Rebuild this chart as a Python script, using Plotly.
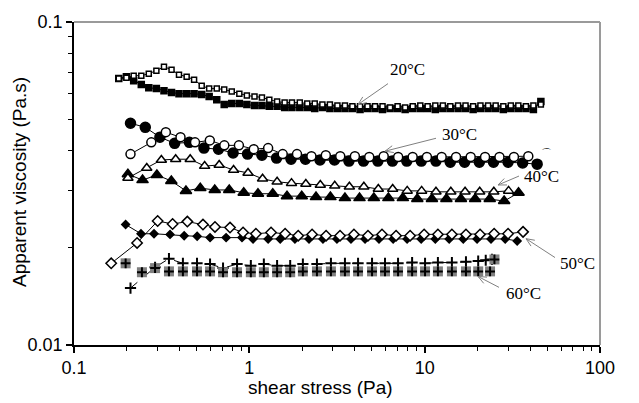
import math
import plotly.graph_objects as go

# ---------------- data (shear stress in Pa, apparent viscosity in Pa.s) ----------------
x20 = [0.180, 0.199, 0.219, 0.242, 0.267, 0.295, 0.326, 0.360, 0.397, 0.439,
       0.484, 0.535, 0.590, 0.652, 0.719, 0.794, 0.877, 0.968, 1.07, 1.18,
       1.30, 1.44, 1.59, 1.75, 1.94, 2.14, 2.36, 2.61, 2.88, 3.18,
       3.51, 3.87, 4.28, 4.72, 5.21, 5.75, 6.35, 7.01, 7.74, 8.55,
       9.44, 10.4, 11.5, 12.7, 14.0, 15.5, 17.1, 18.9, 20.8, 23.0,
       25.4, 28.1, 31.0, 34.2, 37.8, 41.7, 46.0]
y20_open = [0.0668, 0.0672, 0.0682, 0.0682, 0.0692, 0.0707, 0.0727, 0.0712, 0.0687, 0.0677,
            0.0663, 0.0635, 0.0622, 0.0622, 0.0618, 0.0609, 0.0600, 0.0592, 0.0588, 0.0584,
            0.0575, 0.0567, 0.0563, 0.0563, 0.0563, 0.0559, 0.0559, 0.0555, 0.0555, 0.0551,
            0.0551, 0.0548, 0.0548, 0.0548, 0.0548, 0.0548, 0.0544, 0.0548, 0.0544, 0.0548,
            0.0551, 0.0548, 0.0551, 0.0551, 0.0548, 0.0551, 0.0551, 0.0548, 0.0551, 0.0551,
            0.0551, 0.0548, 0.0551, 0.0551, 0.0548, 0.0551, 0.0555]
y20_fill = [0.0668, 0.0677, 0.0658, 0.0640, 0.0626, 0.0622, 0.0613, 0.0605, 0.0600, 0.0600,
            0.0600, 0.0596, 0.0588, 0.0575, 0.0555, 0.0559, 0.0559, 0.0555, 0.0551, 0.0551,
            0.0548, 0.0548, 0.0544, 0.0544, 0.0544, 0.0544, 0.0540, 0.0544, 0.0540, 0.0540,
            0.0540, 0.0540, 0.0536, 0.0540, 0.0540, 0.0536, 0.0540, 0.0540, 0.0536, 0.0540,
            0.0540, 0.0540, 0.0536, 0.0540, 0.0540, 0.0540, 0.0540, 0.0536, 0.0540, 0.0540,
            0.0540, 0.0536, 0.0540, 0.0540, 0.0540, 0.0536, 0.0567]

x30_fill = [0.210, 0.255, 0.309, 0.375, 0.455, 0.551, 0.667, 0.808, 0.977, 1.18,
            1.43, 1.73, 2.09, 2.53, 3.06, 3.70, 4.48, 5.41, 6.55, 7.91,
            9.57, 11.6, 14.0, 16.9, 20.5, 24.7, 29.9, 36.2, 43.8]
y30_fill = [0.0486, 0.0472, 0.0440, 0.0421, 0.0424, 0.0407, 0.0404, 0.0393, 0.0390, 0.0387,
            0.0379, 0.0376, 0.0376, 0.0374, 0.0374, 0.0371, 0.0371, 0.0371, 0.0371, 0.0371,
            0.0371, 0.0371, 0.0368, 0.0368, 0.0368, 0.0368, 0.0368, 0.0366, 0.0363]
x30_open = [0.210, 0.276, 0.334, 0.405, 0.490, 0.595, 0.720, 0.872, 1.06, 1.28,
            1.55, 1.87, 2.26, 2.73, 3.30, 4.00, 4.83, 5.84, 7.06, 8.54,
            10.3, 12.5, 15.1, 18.3, 22.1, 26.7, 32.3, 39.0]
y30_open = [0.0390, 0.0424, 0.0456, 0.0440, 0.0424, 0.0430, 0.0415, 0.0415, 0.0404, 0.0407,
            0.0390, 0.0390, 0.0384, 0.0387, 0.0384, 0.0384, 0.0382, 0.0384, 0.0382, 0.0382,
            0.0382, 0.0382, 0.0382, 0.0382, 0.0382, 0.0382, 0.0382, 0.0384]

x40_fill = [0.203, 0.246, 0.297, 0.359, 0.435, 0.525, 0.635, 0.768, 0.929, 1.12,
            1.36, 1.64, 1.99, 2.40, 2.90, 3.51, 4.25, 5.13, 6.21, 7.51,
            9.08, 11.0, 13.3, 16.1, 19.4, 23.5, 28.4, 34.3]
y40_fill = [0.0338, 0.0324, 0.0336, 0.0322, 0.0300, 0.0306, 0.0302, 0.0302, 0.0296, 0.0294,
            0.0294, 0.0289, 0.0289, 0.0287, 0.0287, 0.0285, 0.0285, 0.0285, 0.0285, 0.0285,
            0.0283, 0.0283, 0.0283, 0.0283, 0.0283, 0.0283, 0.0279, 0.0296]
x40_open = [0.203, 0.260, 0.315, 0.380, 0.460, 0.556, 0.673, 0.813, 0.983, 1.19,
            1.44, 1.74, 2.10, 2.54, 3.07, 3.72, 4.50, 5.44, 6.57, 7.95,
            9.61, 11.6, 14.1, 17.0, 20.6, 24.8, 30.1]
y40_open = [0.0329, 0.0353, 0.0374, 0.0376, 0.0376, 0.0358, 0.0361, 0.0348, 0.0341, 0.0327,
            0.0320, 0.0317, 0.0315, 0.0313, 0.0311, 0.0309, 0.0309, 0.0304, 0.0304, 0.0300,
            0.0300, 0.0298, 0.0298, 0.0298, 0.0298, 0.0298, 0.0300]

x50_open = [0.163, 0.229, 0.300, 0.365, 0.443, 0.544, 0.637, 0.776, 0.921, 1.09,
            1.33, 1.60, 1.90, 2.28, 2.74, 3.29, 3.95, 4.75, 5.71, 6.87,
            8.26, 9.93, 11.9, 14.3, 17.2, 20.7, 24.9, 29.9, 36.4]
y50_open = [0.0179, 0.0207, 0.0242, 0.0237, 0.0241, 0.0236, 0.0232, 0.0231, 0.0223, 0.0221,
            0.0223, 0.0221, 0.0218, 0.0220, 0.0218, 0.0218, 0.0220, 0.0218, 0.0220, 0.0218,
            0.0218, 0.0220, 0.0220, 0.0220, 0.0220, 0.0220, 0.0221, 0.0221, 0.0224]
x50_fill = [0.197, 0.241, 0.286, 0.353, 0.425, 0.504, 0.597, 0.737, 0.908, 1.05,
            1.28, 1.50, 1.82, 2.19, 2.63, 3.16, 3.80, 4.57, 5.49, 6.61,
            7.94, 9.55, 11.5, 13.8, 16.6, 19.9, 23.9, 28.8, 33.7]
y50_fill = [0.0236, 0.0221, 0.0221, 0.0220, 0.0218, 0.0217, 0.0215, 0.0215, 0.0215, 0.0213,
            0.0213, 0.0213, 0.0213, 0.0213, 0.0213, 0.0213, 0.0213, 0.0213, 0.0213, 0.0213,
            0.0213, 0.0213, 0.0213, 0.0213, 0.0213, 0.0213, 0.0213, 0.0213, 0.0210]

x60_sq = [0.197, 0.244, 0.290, 0.348, 0.418, 0.503, 0.597, 0.708, 0.851, 1.02,
          1.21, 1.44, 1.71, 2.02, 2.43, 2.92, 3.51, 4.17, 5.01, 5.94,
          7.05, 8.48, 10.05, 11.9, 14.3, 17.2, 20.2, 23.6, 25.0]
y60_sq = [0.0179, 0.0168, 0.0173, 0.0169, 0.0169, 0.0169, 0.0169, 0.0168, 0.0168, 0.0168,
          0.0168, 0.0168, 0.0168, 0.0169, 0.0169, 0.0169, 0.0169, 0.0169, 0.0169, 0.0169,
          0.0169, 0.0169, 0.0169, 0.0169, 0.0169, 0.0169, 0.0169, 0.0169, 0.0184]
x60_plus = [0.210, 0.290, 0.348, 0.418, 0.503, 0.597, 0.708, 0.851, 1.02, 1.21,
            1.44, 1.71, 2.02, 2.43, 2.92, 3.51, 4.17, 5.01, 5.94, 7.05,
            8.48, 10.05, 11.9, 14.3, 17.2, 20.2, 22.3, 24.2]
y60_plus = [0.0150, 0.0174, 0.0185, 0.0179, 0.0179, 0.0178, 0.0173, 0.0178, 0.0176, 0.0178,
            0.0176, 0.0176, 0.0178, 0.0178, 0.0179, 0.0179, 0.0179, 0.0179, 0.0179, 0.0179,
            0.0180, 0.0179, 0.0180, 0.0180, 0.0181, 0.0182, 0.0183, 0.0184]

x_ticks = [0.1, 1, 10, 100]
x_ticktext = ["0.1", "1", "10", "100"]
y_ticks = [0.01, 0.1]
y_ticktext = ["0.01", "0.1"]

# label text, text centre (px), arrow tail (px), arrow tip (px)
labels = ["20°C", "30°C", "40°C", "50°C", "60°C"]
label_pos = [(407, 68), (459, 133), (541, 175), (577, 263), (523, 293)]
arrow_tail = [(388, 82), (436, 137), (519, 175), (555, 257), (499, 287)]
arrow_tip = [(358, 103), (385, 150), (498, 184), (526, 238), (478, 276)]

# ---------------- layout geometry ----------------
W, H = 639, 403
L, R, T, B = 74, 39, 20, 58
PW, PH = W - L - R, H - T - B


def px2paper(px, py):
    return (px - L) / PW, (H - B - py) / PH


fig = go.Figure()
BLK = "black"


def add(x, y, symbol, size, fill, lw=1.0, dash="solid", line=True, mlw=1.5):
    fig.add_trace(go.Scatter(
        x=x, y=y, mode="lines+markers" if line else "markers",
        line=dict(color=BLK, width=lw, dash=dash),
        marker=dict(symbol=symbol, size=size, color=fill,
                    line=dict(color=BLK, width=mlw)),
        showlegend=False, hoverinfo="skip"))


# 20 C
add(x20, y20_fill, "square", 6, BLK)
add(x20, y20_open, "square", 5, "white")
# 30 C
add(x30_fill, y30_fill, "circle", 10, BLK)
add(x30_open, y30_open, "circle", 9, "white")
# 40 C
add(x40_fill, y40_fill, "triangle-up", 10, BLK)
add(x40_open, y40_open, "triangle-up", 9, "white")
# 50 C
add(x50_fill, y50_fill, "diamond", 6, BLK)
add(x50_open, y50_open, "diamond", 8, "white")
# 60 C
add(x60_plus, y60_plus, "cross-thin", 8, BLK, dash="dash", mlw=2)
fig.add_trace(go.Scatter(x=x60_sq, y=y60_sq, mode="markers",
                         marker=dict(symbol="square", size=10, color="#808080",
                                     line=dict(width=0)),
                         showlegend=False, hoverinfo="skip"))
fig.add_trace(go.Scatter(x=x60_sq, y=y60_sq, mode="markers",
                         marker=dict(symbol="cross-thin", size=7,
                                     line=dict(color=BLK, width=2)),
                         showlegend=False, hoverinfo="skip"))

shapes = []
# grey top/right frame
shapes.append(dict(type="line", xref="paper", yref="paper", x0=0, y0=1, x1=1, y1=1,
                   line=dict(color="#9a9a9a", width=2)))
shapes.append(dict(type="line", xref="paper", yref="paper", x0=1, y0=0, x1=1, y1=1,
                   line=dict(color="#9a9a9a", width=2)))

annotations = []
for txt, (tx, ty), (ax_, ay_), (bx, by) in zip(labels, label_pos, arrow_tail, arrow_tip):
    px_, py_ = px2paper(tx, ty)
    annotations.append(dict(x=px_, y=py_, xref="paper", yref="paper", text=txt,
                            showarrow=False, xanchor="center", yanchor="middle",
                            font=dict(family="Liberation Serif", size=17, color=BLK)))
    x0, y0 = px2paper(ax_, ay_)
    x1, y1 = px2paper(bx, by)
    shapes.append(dict(type="line", xref="paper", yref="paper", x0=x0, y0=y0, x1=x1, y1=y1,
                       line=dict(color="#808080", width=1)))
    ang = math.atan2(ay_ - by, ax_ - bx)
    for da in (0.4, -0.4):
        hx = bx + 9 * math.cos(ang + da)
        hy = by + 9 * math.sin(ang + da)
        hx0, hy0 = px2paper(hx, hy)
        shapes.append(dict(type="line", xref="paper", yref="paper", x0=x1, y0=y1, x1=hx0, y1=hy0,
                           line=dict(color="#808080", width=1)))

# small stray arc after the end of the 30 C curve
arc = px2paper(546, 152)
annotations.append(dict(x=arc[0], y=arc[1], xref="paper", yref="paper", text="⌒",
                        showarrow=False, xanchor="center", yanchor="middle",
                        font=dict(family="DejaVu Sans", size=11, color=BLK)))

ax_title_font = dict(family="Liberation Sans", size=19, color=BLK)
xt = px2paper(320, 388)
annotations.append(dict(x=xt[0], y=xt[1], xref="paper", yref="paper",
                        text="shear stress (Pa)", showarrow=False,
                        xanchor="center", yanchor="middle", font=ax_title_font))
yt = px2paper(19, 181)
annotations.append(dict(x=yt[0], y=yt[1], xref="paper", yref="paper",
                        text="Apparent viscosity (Pa.s)", showarrow=False, textangle=-90,
                        xanchor="center", yanchor="middle", font=ax_title_font))

tick_font = dict(family="Liberation Sans", size=18, color=BLK)
fig.update_layout(
    width=W, height=H,
    margin=dict(l=L, r=R, t=T, b=B),
    paper_bgcolor="white", plot_bgcolor="white",
    shapes=shapes, annotations=annotations,
    xaxis=dict(type="log", range=[-1, 2], showgrid=False, zeroline=False,
               showline=True, linecolor=BLK, linewidth=1.5,
               ticks="outside", ticklen=6, tickwidth=1.5, tickcolor=BLK,
               tickvals=x_ticks, ticktext=x_ticktext, tickfont=tick_font,
               minor=dict(ticks="outside", ticklen=4, tickwidth=1.2, tickcolor=BLK,
                          tickvals=[0.2, 0.3, 0.4, 0.5, 0.6, 0.7, 0.8, 0.9,
                                    2, 3, 4, 5, 6, 7, 8, 9,
                                    20, 30, 40, 50, 60, 70, 80, 90], showgrid=False)),
    yaxis=dict(type="log", range=[-2, -1], showgrid=False, zeroline=False,
               showline=True, linecolor=BLK, linewidth=1.5,
               ticks="outside", ticklen=6, tickwidth=1.5, tickcolor=BLK,
               tickvals=y_ticks, ticktext=y_ticktext, tickfont=tick_font,
               minor=dict(ticks="outside", ticklen=4, tickwidth=1.2, tickcolor=BLK,
                          tickvals=[0.02, 0.03, 0.04, 0.05, 0.06, 0.07, 0.08, 0.09],
                          showgrid=False)),
)

fig.write_html("out.html", config={"displayModeBar": False},
               post_script="document.body.style.margin='0px';")
